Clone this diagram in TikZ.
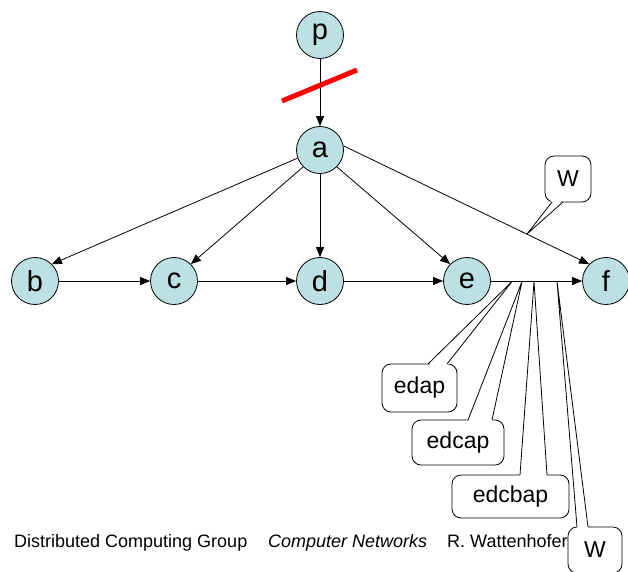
\documentclass[tikz,border=0pt]{standalone}
\usepackage{fontspec}
\setmainfont{Liberation Sans}
\usetikzlibrary{arrows.meta,calc}
\definecolor{nodefill}{RGB}{188,224,228}
\begin{document}
\begin{tikzpicture}[x=1pt,y=-1pt,
  vtx/.style={circle,draw=black,line width=0.8pt,fill=nodefill,minimum size=47pt,inner sep=0pt,font=\fontsize{29}{31}\selectfont},
  arr/.style={-{Triangle[length=10pt,width=8pt]},line width=0.8pt},
  callbox/.style={draw=black,fill=white,rounded corners=9pt,line width=0.8pt,inner sep=0pt,font=\fontsize{23}{25}\selectfont},
  ptr/.style={draw=black,line width=0.8pt},
  foot/.style={anchor=base west,inner sep=0pt,font=\fontsize{18}{20}\selectfont}
]
\useasboundingbox (0,0) rectangle (628,571);

% vertices
\node[vtx] (p) at (320,35) {p};
\node[vtx] (a) at (320,150) {a};
\node[vtx] (b) at (35,281) {b};
\node[vtx] (c) at (174,281) {c};
\node[vtx] (d) at (320,281) {d};
\node[vtx] (e) at (467,281) {e};
\node[vtx] (f) at (606,281) {f};

% callout boxes
\node[callbox,minimum width=46pt,minimum height=46pt] (wtop) at (568,179) {W};
\node[callbox,minimum width=75pt,minimum height=48pt] (edap) at (419.5,388) {edap};
\node[callbox,minimum width=92pt,minimum height=45pt] (edcap) at (458,442.5) {edcap};
\node[callbox,minimum width=117pt,minimum height=43pt] (edcbap) at (510.5,496.5) {edcbap};
\node[callbox,minimum width=54pt,minimum height=46pt] (wbot) at (595,550) {W};

% callout pointer tips
\coordinate (twtop) at (527,234);
\coordinate (tedap) at (512,281.5);
\coordinate (tedcap) at (522,281.5);
\coordinate (tedcbap) at (534,281.5);
\coordinate (twbot) at (557,281.5);

\fill[white] (552,200) -- (twtop) -- (563,200) -- cycle;
\draw[ptr] (552,202) -- (twtop) -- (563,202);

\fill[white] (428,366) -- (tedap) -- (447,366) -- cycle;
\draw[ptr] (428,364) -- (tedap) -- (447,364);

\fill[white] (468,422) -- (tedcap) -- (492,422) -- cycle;
\draw[ptr] (468,420) -- (tedcap) -- (492,420);

\fill[white] (520,477) -- (tedcbap) -- (547,477) -- cycle;
\draw[ptr] (520,475) -- (tedcbap) -- (547,475);

\fill[white] (577,529) -- (twbot) -- (588,529) -- cycle;
\draw[ptr] (577,527) -- (twbot) -- (588,527);

% edges
\draw[arr] (p) -- (a);
\draw[arr] (a.200) -- (b.45);
\draw[arr] (a.225) -- (c.45);
\draw[arr] (a) -- (d);
\draw[arr] (a.315) -- (e.135);
\draw[arr] (a.10) -- (f.135);
\draw[arr] (b) -- (c);
\draw[arr] (c) -- (d);
\draw[arr] (d) -- (e);
\draw[arr] (e) -- (f);

% red cut
\draw[red,line width=5pt] (282,101) -- (357,70);

% footer
\node[foot] (g1) at (14,547.5) {Distributed Computing Group};
\node[foot] (g2) at (268,547.5) {\itshape Computer Networks};
\node[foot] (g3) at (447,547.5) {R. Wattenhofer};
\end{tikzpicture}
\end{document}
